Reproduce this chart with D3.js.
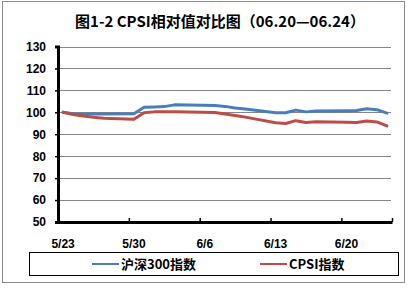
<!DOCTYPE html>
<html>
<head>
<meta charset="utf-8">
<script src="https://cdn.jsdelivr.net/npm/d3@7"></script>
<style>
  body { margin: 0; background: #fff; }
  text { font-family: "Noto Sans CJK SC", "Liberation Sans", sans-serif; font-weight: bold; }
</style>
</head>
<body>
<svg id="chart"></svg>
<script>
// trading days (2011) and index values
const days = ["5/23","5/24","5/25","5/26","5/27","5/30","5/31","6/1","6/2","6/3",
              "6/7","6/8","6/9","6/10","6/13","6/14","6/15","6/16","6/17",
              "6/20","6/21","6/22","6/23","6/24"];
const hs300 = [100, 99.4, 99.2, 99.2, 99.2, 99.3, 102.3, 102.4, 102.6, 103.4,
               103.1, 102.7, 102.0, 101.5, 99.8, 99.8, 101.0, 100.2, 100.6,
               100.7, 100.8, 101.6, 101.2, 99.6];
const cpsi = [100, 99.0, 98.3, 97.7, 97.3, 96.8, 99.8, 100.2, 100.3, 100.3,
              99.9, 99.2, 98.5, 97.8, 95.2, 94.9, 96.2, 95.4, 95.7,
              95.5, 95.4, 96.0, 95.6, 93.8];
const yTicks = [50, 60, 70, 80, 90, 100, 110, 120, 130];
const xTickLabels = ["5/23", "5/30", "6/6", "6/13", "6/20"];
const seriesNames = ["沪深300指数", "CPSI指数"];
const colors = ["#4a7ebb", "#be4b48"];

const width = 411, height = 288;
const plot = { left: 58, right: 392, top: 46.5, bottom: 222 };

const parse = s => { const p = s.split("/"); return new Date(2011, +p[0] - 1, +p[1]); };
const mid = s => d3.timeHour.offset(parse(s), 12);

const svg = d3.select("#chart").attr("width", width).attr("height", height);

// outer border
svg.append("rect")
  .attr("x", 2.5).attr("y", 1.5).attr("width", 402).attr("height", 281)
  .attr("fill", "#fff").attr("stroke", "#8c8c8c").attr("stroke-width", 1);

// title
svg.append("text")
  .attr("x", 220).attr("y", 27)
  .attr("text-anchor", "middle")
  .attr("font-size", 15)
  .text("图1-2 CPSI相对值对比图（06.20—06.24）");

const x = d3.scaleTime()
  .domain([parse("5/23"), parse("6/25")])
  .range([plot.left, plot.right]);
const y = d3.scaleLinear().domain([50, 130]).range([plot.bottom, plot.top]);

// gridlines
svg.append("g")
  .selectAll("line")
  .data(yTicks.filter(v => v > 50))
  .enter().append("line")
  .attr("x1", plot.left).attr("x2", plot.right - 1)
  .attr("y1", d => Math.round(y(d)) + 0.5).attr("y2", d => Math.round(y(d)) + 0.5)
  .attr("stroke", "#868686").attr("stroke-width", 1);

// y axis
const yAxis = svg.append("g")
  .attr("transform", "translate(" + plot.left + ",0)")
  .call(d3.axisLeft(y).tickValues(yTicks).tickSize(3).tickPadding(9));
yAxis.select(".domain").attr("stroke", "#000").attr("stroke-width", 3);
yAxis.selectAll(".tick line").attr("stroke", "#000").attr("stroke-width", 1.5);
yAxis.selectAll(".tick text")
  .attr("font-size", 12).attr("fill", "#000")
  .style("font-family", "'Liberation Sans', sans-serif");

// x axis: ticks at day boundaries, labels at day centers
const xAxis = svg.append("g")
  .attr("transform", "translate(0," + plot.bottom + ")")
  .call(d3.axisBottom(x)
    .tickValues(xTickLabels.map(parse).concat([parse("6/25")]))
    .tickSizeInner(-4).tickSizeOuter(0).tickFormat(""));
xAxis.select(".domain").attr("stroke", "#000").attr("stroke-width", 3);
xAxis.selectAll(".tick line").attr("stroke", "#000").attr("stroke-width", 1.5);

svg.append("g")
  .selectAll("text")
  .data(xTickLabels)
  .enter().append("text")
  .attr("x", d => x(mid(d)))
  .attr("y", 248)
  .attr("text-anchor", "middle")
  .attr("font-size", 12)
  .style("font-family", "'Liberation Sans', sans-serif")
  .text(d => d);

// lines
const line = d3.line()
  .x((d, i) => x(mid(days[i])))
  .y(d => y(d));

[hs300, cpsi].forEach(function (vals, k) {
  svg.append("path")
    .datum(vals)
    .attr("d", line)
    .attr("fill", "none")
    .attr("stroke", colors[k])
    .attr("stroke-width", 3)
    .attr("stroke-linejoin", "round")
    .attr("stroke-linecap", "round");
});

// legend
svg.append("rect")
  .attr("x", 29.5).attr("y", 252.5).attr("width", 369).attr("height", 23)
  .attr("fill", "#fff").attr("stroke", "#000").attr("stroke-width", 1);

const legendX = [[92, 121], [260, 289]];
seriesNames.forEach(function (name, k) {
  svg.append("line")
    .attr("x1", legendX[k][0]).attr("x2", legendX[k][0] + 27)
    .attr("y1", 264).attr("y2", 264)
    .attr("stroke", colors[k]).attr("stroke-width", 2);
  svg.append("text")
    .attr("x", legendX[k][1]).attr("y", 269)
    .attr("font-size", 13)
    .text(name);
});
</script>
</body>
</html>
